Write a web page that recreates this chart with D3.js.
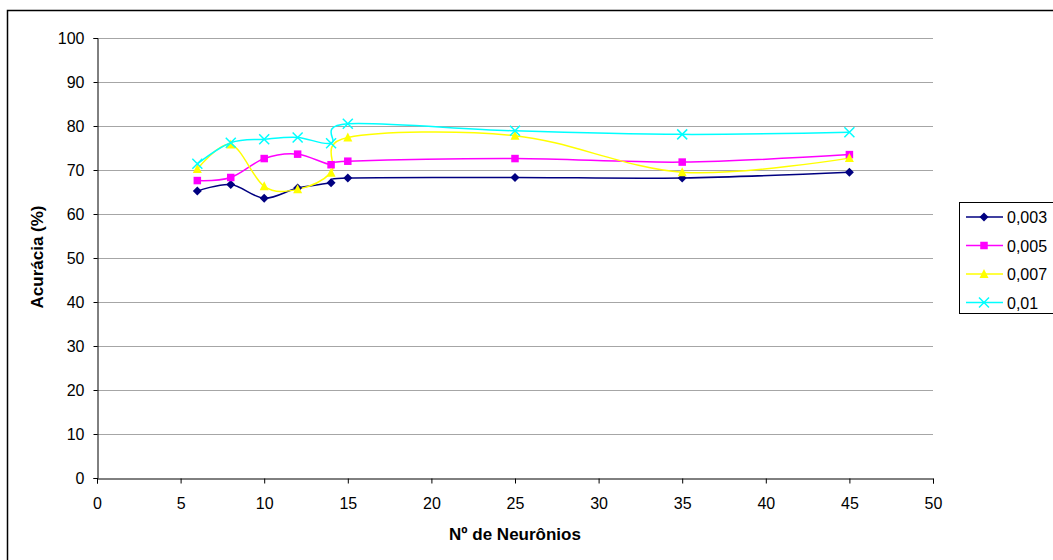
<!DOCTYPE html>
<html>
<head>
<meta charset="utf-8">
<script src="https://cdn.jsdelivr.net/npm/d3@7"></script>
<style>
  body { margin: 0; background: #fff; }
  text { font-family: "Liberation Sans", Arial, sans-serif; }
</style>
</head>
<body>
<script>
  const width = 1053, height = 560

  // data
  const neurons = [6, 8, 10, 12, 14, 15, 25, 35, 45]
  const seriesNames = ['0,003', '0,005', '0,007', '0,01']
  const acc003 = [65.2, 66.7, 63.6, 65.9, 67.1, 68.2, 68.3, 68.2, 69.5]
  const acc005 = [67.6, 68.3, 72.6, 73.6, 71.2, 72.0, 72.6, 71.8, 73.5]
  const acc007 = [70.2, 75.8, 66.3, 65.6, 69.4, 77.4, 77.8, 69.5, 72.7]
  const acc01 = [71.4, 76.2, 77.0, 77.4, 76.1, 80.5, 78.9, 78.1, 78.6]
  const xTicks = [0, 5, 10, 15, 20, 25, 30, 35, 40, 45, 50]
  const yTicks = [0, 10, 20, 30, 40, 50, 60, 70, 80, 90, 100]

  const colors = ['#000080', '#ff00ff', '#ffff00', '#00ffff']
  const markers = ['diamond', 'square', 'triangle', 'x']
  const allSeries = [acc003, acc005, acc007, acc01]

  const margin = {left: 97, top: 38}

  const xScale = d3.scaleLinear().domain([0, 50]).range([margin.left, 933])
  const yScale = d3.scaleLinear().domain([0, 100]).range([478, margin.top])

  const svg = d3.select('body').append('svg')
    .attr('width', width)
    .attr('height', height)

  // outer frame (runs off the right and bottom edge)
  svg.append('rect')
    .attr('x', 7.5).attr('y', 10.5)
    .attr('width', 1100).attr('height', 600)
    .attr('fill', 'none')
    .attr('stroke', '#000')
    .attr('stroke-width', 1.5)

  // gridlines
  svg.append('g')
    .selectAll('line')
    .data(yTicks.filter(d => d > 0))
    .enter().append('line')
      .attr('x1', xScale(0)).attr('x2', xScale(50))
      .attr('y1', d => Math.round(yScale(d)) + 0.5)
      .attr('y2', d => Math.round(yScale(d)) + 0.5)
      .attr('stroke', '#a6a6a6')
      .attr('stroke-width', 1)

  const yAxis = d3.axisLeft(yScale).tickValues(yTicks).tickSize(4).tickPadding(9)
  const xAxis = d3.axisBottom(xScale).tickValues(xTicks).tickSize(5).tickPadding(14)

  const gy = svg.append('g')
    .attr('transform', `translate(${margin.left + 0.5}, 0)`)
    .call(yAxis)
  const gx = svg.append('g')
    .attr('transform', `translate(0, ${yScale(0) + 0.5})`)
    .call(xAxis)

  ;[gx, gy].forEach(g => {
    g.select('.domain').attr('stroke', '#000')
    g.selectAll('.tick line').attr('stroke', '#000')
    g.selectAll('.tick text')
      .style('font-family', '"Liberation Sans", Arial, sans-serif')
      .style('font-size', '16px')
      .attr('fill', '#000')
  })

  svg.append('text')
    .attr('transform', `translate(${43}, ${yScale(50) - 1}) rotate(-90)`)
    .style('text-anchor', 'middle')
    .style('font-size', '17px')
    .style('font-weight', 'bold')
    .text('Acurácia (%)')

  svg.append('text')
    .attr('x', xScale(25)).attr('y', 540)
    .style('text-anchor', 'middle')
    .style('font-size', '17px')
    .style('font-weight', 'bold')
    .text('Nº de Neurônios')

  // smoothed line, close to the spreadsheet's smoothing
  const line = d3.line()
    .x(d => xScale(d[0]))
    .y(d => yScale(d[1]))
    .curve(d3.curveCatmullRom.alpha(0))

  function drawMarker(g, type, color, x, y) {
    if (type === 'diamond') {
      g.append('path')
        .attr('d', `M${x},${y - 4.5}L${x + 4.5},${y}L${x},${y + 4.5}L${x - 4.5},${y}Z`)
        .attr('fill', color)
    } else if (type === 'square') {
      g.append('rect')
        .attr('x', x - 3.75).attr('y', y - 3.75)
        .attr('width', 7.5).attr('height', 7.5)
        .attr('fill', color)
    } else if (type === 'triangle') {
      g.append('path')
        .attr('d', `M${x},${y - 5}L${x + 4.5},${y + 4}L${x - 4.5},${y + 4}Z`)
        .attr('fill', color)
    } else {
      g.append('path')
        .attr('d', `M${x - 5},${y - 5}L${x + 5},${y + 5}M${x + 5},${y - 5}L${x - 5},${y + 5}`)
        .attr('stroke', color)
        .attr('stroke-width', 1.5)
    }
  }

  const plot = svg.append('g')
  allSeries.forEach((vals, s) => {
    const pts = neurons.map((n, i) => [n, vals[i]])
    plot.append('path')
      .attr('d', line(pts))
      .attr('fill', 'none')
      .attr('stroke', colors[s])
      .attr('stroke-width', 1.5)
  })
  allSeries.forEach((vals, s) => {
    const g = plot.append('g')
    neurons.forEach((n, i) => drawMarker(g, markers[s], colors[s], xScale(n), yScale(vals[i])))
  })

  // legend
  const legend = svg.append('g')
  legend.append('rect')
    .attr('x', 959.5).attr('y', 202.5)
    .attr('width', 200).attr('height', 111)
    .attr('fill', '#fff')
    .attr('stroke', '#000')
    .attr('stroke-width', 1)
  seriesNames.forEach((name, s) => {
    const y = 217 + s * 28.5
    legend.append('line')
      .attr('x1', 966).attr('x2', 1003)
      .attr('y1', y).attr('y2', y)
      .attr('stroke', colors[s])
      .attr('stroke-width', 1.5)
    drawMarker(legend, markers[s], colors[s], 984, y)
    legend.append('text')
      .attr('x', 1007).attr('y', y + 6)
      .style('font-size', '16px')
      .text(name)
  })
</script>
</body>
</html>
